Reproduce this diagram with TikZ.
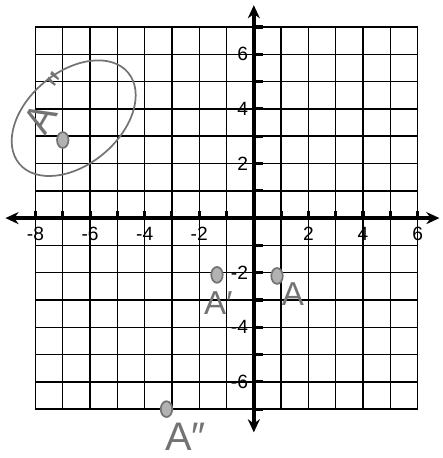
\documentclass[tikz,border=0pt]{standalone}
\usepackage{fontspec}
\setmainfont{Liberation Sans}
\usetikzlibrary{arrows.meta,positioning,shapes.geometric}
\definecolor{pencil}{RGB}{115,115,115}

\begin{document}
\begin{tikzpicture}[
  x=5mm, y=5mm, font=\normalsize,
  gridline/.style={black, line width=0.75pt},
  axis/.style={{Stealth[length=2.4mm,width=2.2mm]}-{Stealth[length=2.4mm,width=2.2mm]}, line width=2.2pt, black},
  tick/.style={black, line width=1.6pt},
  num/.style={inner sep=0pt},
  dot/.style={ellipse, draw=pencil, fill=pencil!55, line width=0.9pt, minimum width=2.1mm, minimum height=2.9mm, inner sep=0pt},
  hand/.style={pencil, inner sep=0pt, font=\LARGE}
]
\useasboundingbox (-9.3,-8.79) rectangle (6.92,7.99);

% grid
\foreach \x in {-8,...,6} \draw[gridline] (\x,-7) -- (\x,7);
\foreach \y in {-7,...,7} \draw[gridline] (-8,\y) -- (6,\y);

% axes
\coordinate (xl) at (-9.1,0);
\coordinate (xr) at (6.8,0);
\coordinate (yb) at (0,-7.85);
\coordinate (yt) at (0,7.8);
\draw[axis] (xl) -- (xr);
\draw[axis] (yb) -- (yt);
\foreach \x in {-8,...,6} \draw[tick] (\x,0) -- (\x,0.25);
\foreach \y in {-7,...,7} \draw[tick] (0,\y) -- (0.32,\y);

% numbers
\foreach \x in {-8,-6,-4,-2,2,4,6} \node[num, anchor=north] at (\x,-0.32) {\x};
\foreach \y in {-6,-4,-2,2,4,6} \node[num, anchor=east] at (-0.2,\y) {\y};

% points
\node[dot] (A) at (0.85,-2.12) {};
\node[dot] (A1) at (-1.35,-2.08) {};
\node[dot] (A2) at (-3.2,-7.0) {};
\node[dot] (A3) at (-7.0,2.86) {};

\node[hand] (lA) at (1.43,-2.8) {A};
\node[hand] (lA1) at (-1.3,-3.1) {A′};
\node[hand, font=\huge] (lA2) at (-2.5,-8.0) {A″};
\node[hand, font=\huge, rotate=60] (lA3) at (-7.5,4.2) {A\hspace{0.5em}″};

% ring round the upper one
\coordinate (ring) at (-6.6,3.66);
\draw[pencil, line width=0.9pt, rotate around={40:(ring)}] (ring) ellipse (2.6 and 1.7);
\end{tikzpicture}
\end{document}
